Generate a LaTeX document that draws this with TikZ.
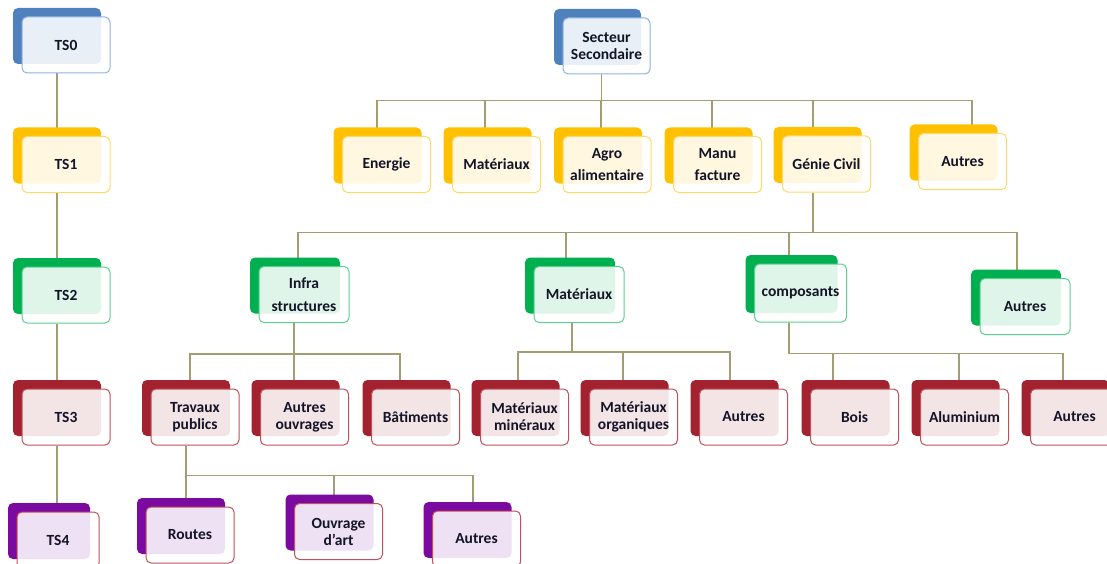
\documentclass[tikz,border=0pt]{standalone}
\usepackage{fontspec}
\setmainfont{Carlito}
\usetikzlibrary{shadows, calc, backgrounds}
\definecolor{bleufond}{HTML}{4F81BD}
\definecolor{bleubord}{HTML}{8DB3E2}
\definecolor{jaunefond}{HTML}{FFC000}
\definecolor{jaunebord}{HTML}{FFD966}
\definecolor{vertfond}{HTML}{00B050}
\definecolor{vertbord}{HTML}{5AD08E}
\definecolor{rougefond}{HTML}{A2232F}
\definecolor{rougebord}{HTML}{C0505A}
\definecolor{violetfond}{HTML}{7B0AA0}
\definecolor{liencoul}{HTML}{A49C72}
\definecolor{texte}{HTML}{141428}
\tikzset{
  boite/.style={draw, rounded corners=5pt, line width=1pt, fill=white, fill opacity=0.88, text opacity=1,
    minimum width=88pt, minimum height=56pt, inner sep=2pt, align=center,
    font=\fontsize{15.5}{17}\selectfont\bfseries, text=texte},
  fond/.style={copy shadow={shadow xshift=-9pt, shadow yshift=9pt, fill=#1, draw=none, fill opacity=1}},
  bleu/.style={boite, draw=bleubord, fond=bleufond},
  jaune/.style={boite, draw=jaunebord, fond=jaunefond},
  vert/.style={boite, draw=vertbord, fond=vertfond},
  rouge/.style={boite, draw=rougebord, fond=rougefond},
  violet/.style={boite, draw=rougebord, fond=violetfond},
  lien/.style={draw=liencoul, line width=1.2pt},
}

\begin{document}
\begin{tikzpicture}[x=1pt, y=-1pt]
  \useasboundingbox (0,0) rectangle (1107,564);
  % Niveaux TS
  \node[bleu] (ts0) at (66,45) {TS0};
  \node[jaune] (ts1) at (66,164.5) {TS1};
  \node[vert] (ts2) at (66,295) {TS2};
  \node[rouge] (ts3) at (66,417) {TS3};
  \node[violet, minimum width=82pt] (ts4) at (58,540) {TS4};
  % Secteur secondaire
  \node[bleu, minimum width=87pt] (secteur) at (606.5,46) {Secteur\\Secondaire};
  \node[jaune] (energie) at (386.5,164.5) {Energie};
  \node[jaune] (mat1) at (496.5,164.5) {Matériaux};
  \node[jaune] (agro) at (607,164.5) {Agro\\[5pt]alimentaire};
  \node[jaune] (manu) at (717.5,164.5) {Manu\\[5pt]facture};
  \node[jaune] (genie) at (826.5,164) {Génie Civil};
  \node[jaune] (autres1) at (962.5,161.5) {Autres};
  % Génie civil
  \node[vert, minimum width=90pt] (infra) at (304,294.5) {Infra\\[6pt]structures};
  \node[vert, minimum width=90pt] (mat2) at (579,294.5) {Matériaux};
  \node[vert, minimum width=92pt, minimum height=58pt] (compo) at (800.5,293) {composants};
  \node[vert, minimum width=90pt] (autres2) at (1025,306.5) {Autres};
  % Sous-branches
  \node[rouge] (travaux) at (195,417) {Travaux\\publics};
  \node[rouge] (autresouv) at (304.5,417) {Autres\\ouvrages};
  \node[rouge] (bat) at (415.5,417) {Bâtiments};
  \node[rouge] (matmin) at (524.5,417) {Matériaux\\minéraux};
  \node[rouge] (matorg) at (633.5,417) {Matériaux\\organiques};
  \node[rouge] (autres3) at (743.5,417) {Autres};
  \node[rouge] (bois) at (854.5,417) {Bois};
  \node[rouge] (alu) at (964.5,417) {Aluminium};
  \node[rouge] (autres4) at (1074.5,417) {Autres};
  % Travaux publics
  \node[violet] (routes) at (190,535) {Routes};
  \node[violet] (ouvrage) at (338.5,531.5) {Ouvrage\\d’art};
  \node[violet] (autres5) at (476.5,539) {Autres};

  \begin{scope}[on background layer]
    % chaine TS
    \draw[lien] ([xshift=-9pt]ts0.south) -- ([xshift=-9pt]ts1.north);
    \draw[lien] ([xshift=-9pt]ts1.south) -- ([xshift=-9pt]ts2.north);
    \draw[lien] ([xshift=-9pt]ts2.south) -- ([xshift=-9pt]ts3.north);
    \draw[lien] ([xshift=-9pt]ts3.south) -- ([xshift=-9pt]ts3.south |- ts4.north);
    % arbre
    \coordinate (b1) at ($(secteur.south)+(-5,26)$);
    \draw[lien] ([xshift=-5pt]secteur.south) -- (b1);
    \foreach \n/\dx in {energie/-9.5, mat1/-11.5, agro/-6, manu/-5.5, genie/-13.5, autres1/9.5}
      \draw[lien] (b1) -| ([xshift=\dx pt]\n.north);
    \coordinate (b2) at ($(genie.south)+(-13.5,40)$);
    \draw[lien] ([xshift=-13.5pt]genie.south) -- (b2);
    \foreach \n/\dx in {infra/-6, mat2/-13, compo/-11.5, autres2/-8}
      \draw[lien] (b2) -| ([xshift=\dx pt]\n.north);
    \coordinate (b3) at ($(infra.south)+(-10,31)$);
    \draw[lien] ([xshift=-10pt]infra.south) -- (b3);
    \foreach \n/\dx in {travaux/-5, autresouv/-10.5, bat/-15.5}
      \draw[lien] (b3) -| ([xshift=\dx pt]\n.north);
    \coordinate (b4) at ($(mat2.south)+(-7,29)$);
    \draw[lien] ([xshift=-7pt]mat2.south) -- (b4);
    \foreach \n/\dx in {matmin/-6.5, matorg/-10.5, autres3/-13.5}
      \draw[lien] (b4) -| ([xshift=\dx pt]\n.north);
    \coordinate (b5) at ($(compo.south)+(-11.5,31)$);
    \draw[lien] ([xshift=-11.5pt]compo.south) -- (b5);
    \foreach \n/\dx in {bois/-21.5, alu/-5.5, autres4/-11.5}
      \draw[lien] (b5) -| ([xshift=\dx pt]\n.north);
    \coordinate (b6) at ($(travaux.south)+(-9,30)$);
    \draw[lien] ([xshift=-9pt]travaux.south) -- (b6);
    \foreach \n/\dx in {routes/-4, ouvrage/-4.5, autres5/-3.5}
      \draw[lien] (b6) -| ([xshift=\dx pt]\n.north);
  \end{scope}
\end{tikzpicture}
\end{document}
